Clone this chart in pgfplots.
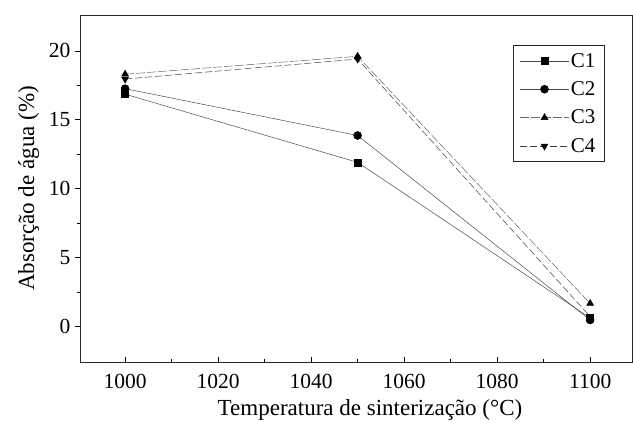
\documentclass[border=0pt]{standalone}
\usepackage{pgfplots}
\pgfplotsset{compat=1.18}
\usepackage{fontspec}
\setmainfont{Liberation Serif}
\begin{document}
\begin{tikzpicture}
\useasboundingbox (-80pt,-62pt) rectangle (553pt,362pt);
\begin{axis}[
  at={(0pt,0pt)}, anchor=south west,
  scale only axis, width=552pt, height=347pt,
  xmin=990.3, xmax=1109, ymin=-2.6, ymax=22.6,
  xtick={1000,1020,...,1100}, ytick={0,5,10,15,20},
  minor x tick num=1, minor y tick num=1,
  xtick align=inside, ytick align=outside,
  xtick pos=bottom, ytick pos=left,
  major tick length=5pt, minor tick length=3pt,
  tick style={black, line width=0.5pt},
  axis line style={line width=0.6pt, black!85},
  /pgf/number format/assume math mode=true,
  /pgf/number format/1000 sep={},
  ticklabel style={font=\fontsize{21.5}{24}\selectfont},
  xticklabel style={yshift=-9pt},
  yticklabel style={xshift=-1pt},
  label style={font=\fontsize{23}{27}\selectfont},
  xlabel={Temperatura de sinterização (°C)},
  ylabel={Absorção de água (\%)},
  xlabel style={yshift=-4pt, xshift=14pt},
  ylabel style={yshift=3pt, yshift=0pt},
  every axis plot/.append style={line width=0.5pt},
  legend style={at={(0.784,0.914)}, anchor=north west, draw=black!85, line width=0.6pt,
    font=\fontsize{21}{24}\selectfont, row sep=9pt, inner xsep=7pt, inner ysep=6pt,
    cells={anchor=west}},
  legend image code/.code={\draw[mark repeat=2,mark phase=2] plot coordinates {(0cm,0cm) (0.85cm,0cm) (1.7cm,0cm)};},
]
\addplot[black!70, mark=square*, mark size=3.5pt, mark options={black, solid}]
  coordinates {(1000,16.85) (1050,11.9) (1100,0.6)};
\addlegendentry{C1}
\addplot[black!70, mark=*, mark size=4pt, mark options={black, solid}]
  coordinates {(1000,17.25) (1050,13.85) (1100,0.45)};
\addlegendentry{C2}
\addplot[black!60, dash pattern=on 9pt off 2pt, mark=triangle*, mark size=4pt, mark options={black, solid}]
  coordinates {(1000,18.3) (1050,19.6) (1100,1.65)};
\addlegendentry{C3}
\addplot[black!75, dash pattern=on 7pt off 3pt, mark=triangle*, mark size=4pt, mark options={black, solid, rotate=180}]
  coordinates {(1000,17.95) (1050,19.4) (1100,0.7)};
\addlegendentry{C4}
\end{axis}
\end{tikzpicture}
\end{document}
